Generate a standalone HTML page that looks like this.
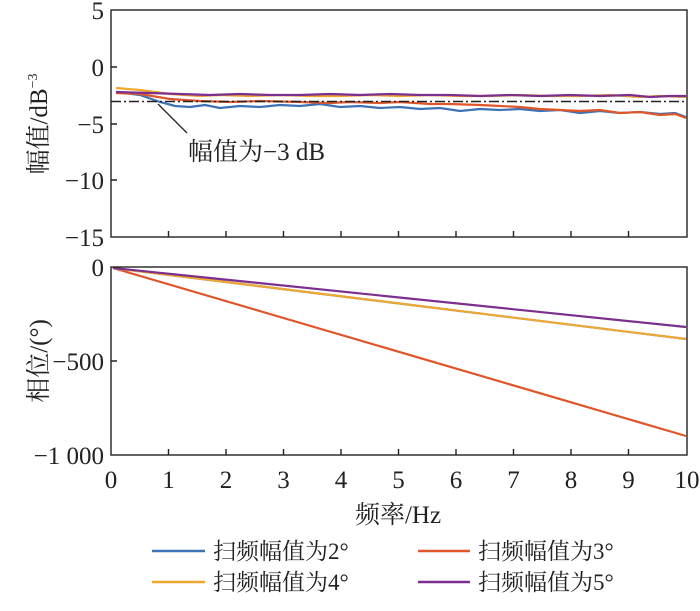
<!DOCTYPE html>
<html><head><meta charset="utf-8"><style>
body{margin:0;background:#fff;width:700px;height:606px;overflow:hidden}
text{font-family:"Liberation Serif","Noto Serif CJK SC",serif;fill:#222}
</style></head><body>
<svg width="700" height="606" viewBox="0 0 700 606" xmlns="http://www.w3.org/2000/svg">
<g fill="none" stroke-width="2.2">
<polyline stroke="#3d72b4" points="116,92 140,95 160,102 175,106 190,107 205,105 220,108 240,106 260,107 280,105 300,106 320,104 340,107 360,106 380,108 400,107 420,109 440,108 460,111 480,109 500,110 520,109 540,111 560,110 580,113 600,111 620,113 640,112 660,114 675,113 686,117"/>
<polyline stroke="#e0562b" points="116,93 140,94 170,99 200,101 230,102 260,101 300,102 330,103 350,102 380,103 400,102 430,104 450,104 480,105 500,106 520,107 540,109 560,110 580,111 600,110 620,113 640,112 660,115 675,114 686,118"/>
<polyline stroke="#f0a830" points="116,88 140,90 170,94 200,96 220,95 250,96 280,95 310,96 340,96 370,95 400,96 430,95 460,96 490,96 520,95 550,96 580,96 610,95 640,97 660,96 686,97"/>
<polyline stroke="#7b2f8e" points="116,92 150,93 180,94 210,95 240,94 270,95 300,95 330,94 360,95 390,94 420,95 450,95 480,96 510,95 540,96 570,95 600,96 630,95 650,97 670,96 686,96"/>
<line x1="111" y1="101.5" x2="686" y2="101.5" stroke="#222" stroke-width="1.6" stroke-dasharray="10,3,2,3"/>
<line x1="158" y1="104" x2="187" y2="133" stroke="#222" stroke-width="1.3"/>
<line x1="113" y1="268" x2="686" y2="436" stroke="#e0562b"/>
<line x1="113" y1="268" x2="686" y2="339" stroke="#3d72b4"/>
<line x1="113" y1="268" x2="686" y2="339" stroke="#f0a830"/>
<line x1="113" y1="268" x2="686" y2="327" stroke="#7b2f8e"/>
</g>
<g fill="none" stroke="#222" stroke-width="1.4">
<rect x="111" y="10" width="576" height="227"/>
<rect x="111" y="267" width="576" height="188"/>
<path d="M111,67h6M111,124h6M111,180h6M168.5,237v-6M226,237v-6M283.5,237v-6M341,237v-6M398.5,237v-6M456,237v-6M513.5,237v-6M571,237v-6M628.5,237v-6"/>
<path d="M111,361h6M168.5,455v-6M226,455v-6M283.5,455v-6M341,455v-6M398.5,455v-6M456,455v-6M513.5,455v-6M571,455v-6M628.5,455v-6"/>
</g>
<g font-size="25" text-anchor="end">
<text x="104" y="19">5</text><text x="104" y="76">0</text><text x="104" y="133">−5</text><text x="104" y="189">−10</text><text x="104" y="246">−15</text>
<text x="104" y="276">0</text><text x="104" y="370">−500</text><text x="104" y="464">−1 000</text>
</g>
<g font-size="25" text-anchor="middle">
<text x="111" y="488">0</text><text x="168.5" y="488">1</text><text x="226" y="488">2</text><text x="283.5" y="488">3</text><text x="341" y="488">4</text><text x="398.5" y="488">5</text><text x="456" y="488">6</text><text x="513.5" y="488">7</text><text x="571" y="488">8</text><text x="628.5" y="488">9</text><text x="687" y="488">10</text>
<text x="398" y="523">频率/Hz</text>
</g>
<text x="188" y="160" font-size="25">幅值为−3 dB</text>
<text transform="translate(47,124) rotate(-90)" font-size="25" text-anchor="middle">幅值/dB<tspan font-size="14" dy="-10">−3</tspan></text>
<text transform="translate(47,361) rotate(-90)" font-size="25" text-anchor="middle">相位/(°)</text>
<g stroke-width="2.5">
<line x1="152" y1="551" x2="205" y2="551" stroke="#3d72b4"/>
<line x1="418" y1="551" x2="470" y2="551" stroke="#e0562b"/>
<line x1="152" y1="582" x2="205" y2="582" stroke="#f0a830"/>
<line x1="418" y1="582" x2="470" y2="582" stroke="#7b2f8e"/>
</g>
<g font-size="23">
<text x="213" y="559">扫频幅值为2°</text><text x="478" y="559">扫频幅值为3°</text>
<text x="213" y="590">扫频幅值为4°</text><text x="478" y="590">扫频幅值为5°</text>
</g>
</svg>
</body></html>
